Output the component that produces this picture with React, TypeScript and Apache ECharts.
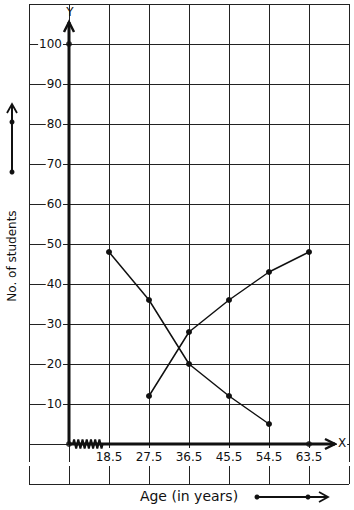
import React, { useEffect, useRef } from "react";
import * as echarts from "echarts";

// x-axis slots: "a" = left edge, "o" = origin (with break), then class marks, "z" = right edge
const xCategories = ["a", "o", "18.5", "27.5", "36.5", "45.5", "54.5", "63.5", "z"];
const yTicks = [10, 20, 30, 40, 50, 60, 70, 80, 90, 100];

// "more than" ogive (decreasing)
const moreAges = ["18.5", "27.5", "36.5", "45.5", "54.5"];
const moreValues = [48, 36, 20, 12, 5];

// "less than" ogive (increasing)
const lessAges = ["27.5", "36.5", "45.5", "54.5", "63.5"];
const lessValues = [12, 28, 36, 43, 48];

// extra marked points on the axes
const markAges = ["o", "o", "63.5"];
const markValues = [0, 100, 0];

const INK = "#111";
const FONT = "DejaVu Sans";

export default function App() {
  const ref = useRef<HTMLDivElement>(null);

  useEffect(() => {
    if (!ref.current) return;
    const chart = echarts.init(ref.current, null, { renderer: "svg" });
    const gridPos = { left: 29, right: 5, top: 4, bottom: 26, outerBoundsMode: "none" };
    const option: any = {
      animation: false,
      backgroundColor: "#fff",
      grid: [
        { ...gridPos },
        { ...gridPos },
      ],
      xAxis: [
        {
          gridIndex: 0,
          type: "category",
          data: xCategories,
          boundaryGap: false,
          z: 0,
          axisLine: { show: false },
          axisTick: { show: false },
          axisLabel: { show: false },
          splitLine: { show: true, lineStyle: { color: "#222", width: 1 } },
        },
        {
          gridIndex: 1,
          type: "category",
          data: xCategories,
          boundaryGap: false,
          position: "bottom",
          z: 3,
          axisLine: { show: false, onZero: false },
          axisTick: { show: false },
          splitLine: { show: false },
          axisLabel: {
            show: true,
            inside: true,
            margin: 18,
            interval: 0,
            color: INK,
            fontFamily: FONT,
            fontSize: 12,
            lineHeight: 14,
            backgroundColor: "#fff",
            padding: [2, 1, 2, 1],
            formatter: (v: string) => (isNaN(Number(v)) ? "" : v),
          },
        },
      ],
      yAxis: [
        {
          gridIndex: 0,
          type: "value",
          min: -10,
          max: 110,
          interval: 10,
          z: 0,
          axisLine: { show: false },
          axisTick: { show: false },
          axisLabel: { show: false },
          splitLine: { show: true, lineStyle: { color: "#222", width: 1 } },
        },
        {
          gridIndex: 1,
          type: "value",
          min: -10,
          max: 110,
          interval: 10,
          position: "left",
          z: 3,
          axisLine: { show: false, onZero: false },
          axisTick: { show: false },
          splitLine: { show: false },
          axisLabel: {
            show: true,
            inside: true,
            align: "right",
            margin: 34,
            color: INK,
            fontFamily: FONT,
            fontSize: 12,
            backgroundColor: "#fff",
            padding: [0, 1, 0, 1],
            formatter: (v: number) => (yTicks.indexOf(v) >= 0 ? String(v) : ""),
          },
        },
      ],
      series: [
        {
          type: "line",
          xAxisIndex: 1,
          yAxisIndex: 1,
          z: 5,
          data: moreAges.map((a, i) => [a, moreValues[i]]),
          symbol: "circle",
          symbolSize: 6,
          itemStyle: { color: INK },
          lineStyle: { color: INK, width: 1.5 },
        },
        {
          type: "line",
          xAxisIndex: 1,
          yAxisIndex: 1,
          z: 5,
          data: lessAges.map((a, i) => [a, lessValues[i]]),
          symbol: "circle",
          symbolSize: 6,
          itemStyle: { color: INK },
          lineStyle: { color: INK, width: 1.5 },
        },
        {
          type: "scatter",
          xAxisIndex: 1,
          yAxisIndex: 1,
          z: 12,
          data: markAges.map((a, i) => [a, markValues[i]]),
          symbol: "circle",
          symbolSize: 6,
          itemStyle: { color: INK },
        },
      ],
    };
    chart.setOption(option);

    const p = (x: string, y: number) => chart.convertToPixel({ gridIndex: 1 }, [x, y]) as number[];
    const O = p("o", 0);
    const sx = p("18.5", 0)[0] - O[0];
    const yTop = p("o", 105.5)[1];
    const xEnd = O[0] + 6.65 * sx;

    // zigzag break on x axis
    const zig: number[][] = [];
    const zx0 = O[0] + 4;
    const teeth = 7;
    const tw = (0.74 * sx) / teeth;
    zig.push([zx0, O[1]]);
    for (let i = 0; i < teeth; i++) {
      zig.push([zx0 + tw * (i + 0.25), O[1] - 4.5]);
      zig.push([zx0 + tw * (i + 0.75), O[1] + 4.5]);
    }
    zig.push([zx0 + tw * teeth, O[1]]);

    const thick = { stroke: INK, lineWidth: 3 };
    chart.setOption({
      graphic: [
        { type: "line", z: 10, shape: { x1: O[0], y1: O[1], x2: O[0], y2: yTop }, style: thick },
        {
          type: "polyline", z: 10,
          shape: { points: [[O[0] - 5, yTop + 10], [O[0], yTop], [O[0] + 5, yTop + 10]] },
          style: { stroke: INK, lineWidth: 2.5, fill: null },
        },
        { type: "line", z: 10, shape: { x1: O[0], y1: O[1], x2: xEnd, y2: O[1] }, style: thick },
        {
          type: "polyline", z: 10,
          shape: { points: [[xEnd - 10, O[1] - 5], [xEnd, O[1]], [xEnd - 10, O[1] + 5]] },
          style: { stroke: INK, lineWidth: 2.5, fill: null },
        },
        {
          type: "polyline", z: 11,
          shape: { points: zig },
          style: { stroke: INK, lineWidth: 2, fill: null },
        },
        {
          type: "text", z: 10, x: O[0] + 1, y: yTop - 10,
          style: { text: "Y", fill: INK, font: `12px ${FONT}`, align: "center", verticalAlign: "middle" },
        },
        {
          type: "text", z: 10, x: xEnd + 7, y: O[1] - 1,
          style: {
            text: "X", fill: INK, font: `12px ${FONT}`, align: "center", verticalAlign: "middle",
            backgroundColor: "#fff", padding: [2, 1, 2, 1],
          },
        },
        // axis titles
        {
          type: "text", z: 10, x: 12, y: 256, rotation: Math.PI / 2,
          style: { text: "No. of students", fill: INK, font: `12px ${FONT}`, align: "center", verticalAlign: "middle" },
        },
        {
          type: "text", z: 10, x: 189, y: 496,
          style: { text: "Age (in years)", fill: INK, font: `14px ${FONT}`, align: "center", verticalAlign: "middle" },
        },
        // direction arrow beside the y title
        { type: "line", z: 10, shape: { x1: 12, y1: 172, x2: 12, y2: 104 }, style: { stroke: INK, lineWidth: 2 } },
        {
          type: "polyline", z: 10,
          shape: { points: [[7, 113], [12, 104], [17, 113]] },
          style: { stroke: INK, lineWidth: 1.8, fill: null },
        },
        { type: "circle", z: 10, shape: { cx: 12, cy: 122, r: 2.5 }, style: { fill: INK } },
        { type: "circle", z: 10, shape: { cx: 12, cy: 172, r: 2.5 }, style: { fill: INK } },
        // direction arrow beside the x title
        { type: "line", z: 10, shape: { x1: 257, y1: 497, x2: 328, y2: 497 }, style: { stroke: INK, lineWidth: 2 } },
        {
          type: "polyline", z: 10,
          shape: { points: [[319, 492], [328, 497], [319, 502]] },
          style: { stroke: INK, lineWidth: 1.8, fill: null },
        },
        { type: "circle", z: 10, shape: { cx: 257, cy: 497, r: 2.5 }, style: { fill: INK } },
        { type: "circle", z: 10, shape: { cx: 308, cy: 497, r: 2.5 }, style: { fill: INK } },
      ],
    });

    return () => chart.dispose();
  }, []);

  return (
    <div
      ref={ref}
      style={{ position: "fixed", left: 0, top: 0, width: 354, height: 510, background: "#fff" }}
    />
  );
}
